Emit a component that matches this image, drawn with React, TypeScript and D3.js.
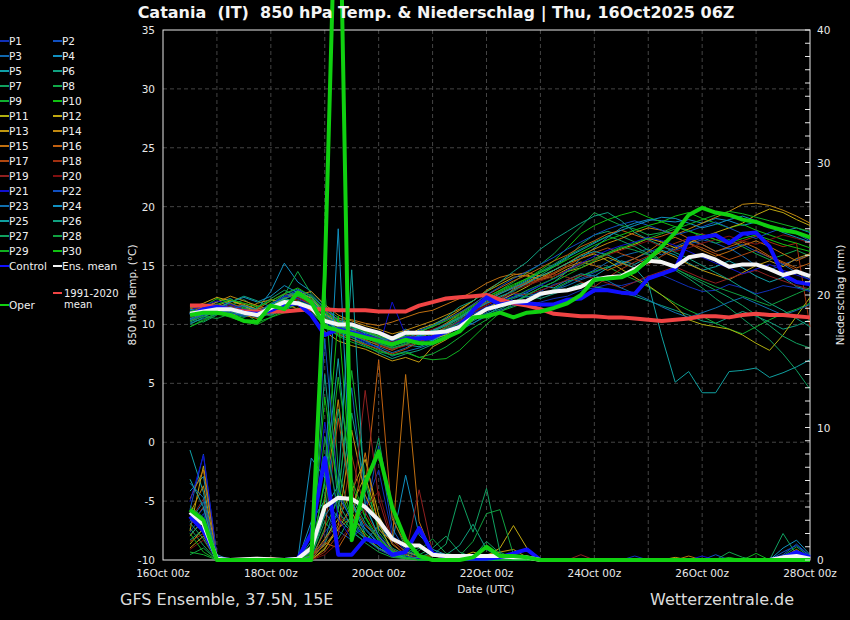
import React from 'react';
import * as d3 from 'd3';

const width = 850;
const height = 620;
const plot = { left: 163, right: 810, top: 30, bottom: 560 };

// lead time in hours after 16Oct2025 00z, every 6 h (16Oct 12z .. 28Oct 00z)
const hours = d3.range(12, 289, 6);

const xTickHours = [0, 48, 96, 144, 192, 240, 288];
const xTickLabels = ['16Oct 00z', '18Oct 00z', '20Oct 00z', '22Oct 00z', '24Oct 00z', '26Oct 00z', '28Oct 00z'];
const tempTicks = [-10, -5, 0, 5, 10, 15, 20, 25, 30, 35];
const precipTicks = [0, 10, 20, 30, 40];

const memberNames = d3.range(1, 31).map(i => `P${i}`);
const memberColors = [
  '#1030b8', '#1050c0', '#1068b0', '#1090c0', '#10a0a8', '#10a080', '#10a060', '#10a848', '#10b030', '#10c010',
  '#b0b010', '#c0a810', '#c09810', '#c08810', '#c07010', '#c06010', '#b04810', '#a03010', '#902020', '#801010',
  '#1010d0', '#1050c0', '#1070b0', '#1090c0', '#10a0a0', '#10a080', '#10a060', '#10a040', '#10b020', '#10c010',
];

// 850 hPa temperature (°C)
const tempMembers: number[][] = [
  [10.9,11.2,11.6,11.3,10.9,10.6,11.0,11.5,12.0,11.6, 10.4,9.8,9.6,9.2,8.8,8.2,8.5,8.7,8.9,9.3,9.9, 10.6,11.2,11.5,11.8,11.6,11.9,12.2,12.4,12.9,13.1,13.4,13.3, 13.6,13.9,14.2,13.7,13.2,12.8,12.9,13.4,13.1,12.6,12.9,13.3,13.1,12.8],
  [10.6,11.0,11.4,11.7,11.2,10.9,11.5,12.3,12.8,12.1, 11.0,10.2,9.9,9.5,9.0,8.6,9.1,9.4,9.2,9.6,10.3, 11.0,11.8,12.1,12.6,12.3,12.8,13.4,13.7,13.9,14.4,14.9,15.2, 15.6,16.1,16.6,16.3,16.8,17.2,16.9,16.4,16.8,16.2,15.7,15.1,15.5,15.9],
  [11.2,11.5,11.3,11.0,10.7,10.8,11.6,12.6,13.0,12.4, 10.6,9.3,8.9,8.4,8.1,7.6,8.0,8.6,8.7,9.1,9.8, 10.4,11.0,11.6,12.2,12.6,12.5,12.9,13.5,14.1,14.6,15.3,15.8, 16.1,16.4,15.9,16.6,17.1,16.8,16.2,16.5,15.8,15.0,14.6,15.1,14.4,13.8],
  [10.4,10.8,11.1,11.5,11.6,11.3,12.8,15.2,13.6,12.8, 11.6,10.3,10.1,9.2,8.5,8.9,9.6,9.0,8.6,9.2,9.9, 10.1,10.8,11.5,11.9,12.5,13.1,13.6,14.5,15.6,16.5,17.4,18.2, 18.6,18.9,18.8,18.7,18.9,18.6,19.0,18.8,18.4,18.7,18.3,17.9,18.2,17.8],
  [11.0,11.3,11.9,12.2,11.5,11.2,11.0,11.8,12.4,12.0, 10.9,10.0,9.4,9.0,8.4,7.9,8.3,8.1,8.6,9.4,10.2, 10.9,11.4,12.0,12.3,12.7,13.3,13.1,13.8,14.3,14.1,14.8,15.4, 15.1,15.7,16.3,15.9,15.2,14.6,14.9,15.4,14.8,14.1,13.6,14.0,13.2,12.9],
  [10.2,10.7,11.0,11.4,11.1,10.6,10.9,11.3,11.9,11.2, 9.8,9.1,8.7,8.2,7.6,7.1,7.5,7.8,8.3,8.8,9.6, 10.3,10.9,11.3,11.9,12.4,12.2,12.6,13.0,13.5,13.2,13.0,12.7, 12.4,12.0,11.6,11.2,10.8,10.3,10.1,10.6,11.1,10.7,10.2,9.6,9.9,10.4],
  [10.5,10.2,10.8,11.6,12.1,11.4,11.2,12.3,12.7,12.0, 10.3,9.5,9.2,8.6,8.3,8.0,8.4,8.9,9.3,9.7,10.4, 11.2,11.9,12.4,12.8,13.5,14.2,14.9,15.6,16.8,17.6,17.9,17.5, 17.0,16.3,15.4,14.6,13.9,13.1,12.2,11.4,10.5,9.6,8.7,7.5,6.1,4.5],
  [11.1,11.4,11.2,10.9,10.6,11.0,11.8,12.5,14.5,12.6, 11.4,10.6,10.0,9.6,9.1,8.8,9.2,9.0,9.5,10.1,10.8, 11.5,12.3,12.9,13.6,14.4,15.1,16.0,17.2,18.3,19.5,18.9,18.4, 18.1,17.6,17.8,18.3,18.0,17.4,16.9,17.2,16.6,16.0,15.5,15.9,16.3,15.8],
  [9.8,10.3,10.9,11.5,11.0,10.2,10.6,11.2,11.7,11.4, 10.1,9.3,8.9,8.3,7.8,7.4,7.7,7.2,7.5,8.1,8.9, 9.7,10.4,11.1,11.5,11.9,12.4,13.0,13.6,14.1,14.5,14.9,14.3, 13.8,13.2,12.5,11.8,11.2,10.7,10.1,9.6,9.2,9.8,10.4,10.9,11.3,11.8],
  [10.7,11.5,12.2,11.8,11.4,11.1,11.6,12.1,11.9,11.5, 10.6,9.7,9.3,8.9,8.5,8.1,8.6,9.1,9.5,10.0,10.7, 11.4,12.1,12.8,13.3,13.9,14.6,15.4,16.5,17.7,18.4,18.9,19.3, 19.6,19.1,18.7,19.2,19.5,19.0,18.6,18.2,18.5,18.0,17.6,17.2,16.9,16.5],
  [10.9,11.2,11.6,12.0,11.7,11.3,11.5,12.2,12.6,12.3, 11.2,10.4,10.0,9.4,9.0,8.4,8.7,9.2,8.8,9.1,9.8, 10.5,11.3,12.0,12.6,13.2,13.9,14.6,15.2,15.6,16.0,15.4,14.7, 14.0,13.3,12.5,11.6,10.4,10.0,9.8,9.6,9.1,8.4,7.8,9.1,10.7,12.3],
  [11.4,11.8,12.3,12.0,11.6,11.0,10.8,11.4,12.9,12.2, 10.9,10.1,9.5,9.7,9.3,8.7,9.0,9.6,10.0,10.5,11.2, 12.0,12.8,13.4,14.0,14.2,13.8,14.1,14.7,15.2,15.5,16.0,16.4, 16.8,17.3,17.0,16.5,16.9,17.4,17.8,18.2,18.6,19.3,19.8,19.5,18.9,18.4],
  [11.6,11.3,11.0,10.7,11.2,11.8,12.1,11.8,11.3,10.9, 9.4,8.6,8.2,7.9,7.4,6.9,7.2,6.8,8.1,8.7,9.5, 10.4,11.2,12.1,13.0,13.6,14.2,13.9,14.5,14.8,15.3,15.7,15.2, 14.8,15.5,16.2,15.7,15.1,14.6,14.2,13.8,14.4,15.0,15.4,14.9,15.6,16.0],
  [11.0,11.5,11.9,12.4,12.0,11.6,11.2,11.7,12.5,12.8, 11.7,10.8,10.3,9.9,9.6,9.2,9.5,9.9,10.3,10.8,11.3, 12.0,12.9,13.6,14.2,14.4,14.1,14.6,15.2,15.9,16.4,16.9,17.3, 17.8,18.2,18.0,17.6,18.1,18.6,19.1,19.6,20.2,20.3,20.1,19.7,19.2,18.6],
  [10.3,10.9,11.4,11.2,10.8,10.5,11.1,11.9,12.2,11.7, 10.8,10.5,10.4,10.1,9.9,10.2,10.6,11.0,11.2,11.7,12.2, 12.8,13.5,14.0,14.3,14.1,13.8,14.3,14.9,15.3,15.0,14.6,15.1, 15.6,16.2,17.0,17.4,16.9,16.3,15.8,16.2,16.7,17.1,16.6,16.0,15.4,15.9],
  [11.3,11.7,11.4,11.1,10.9,11.3,12.0,12.6,12.4,11.8, 10.4,9.6,9.0,8.7,8.2,7.8,8.3,8.8,9.4,10.1,10.9, 11.7,12.5,13.1,13.7,14.2,14.8,15.4,15.9,16.6,17.1,17.7,18.0, 17.6,17.2,17.5,17.9,17.3,16.8,16.2,16.6,17.0,16.5,15.8,15.3,14.8,15.2],
  [10.8,11.1,11.5,11.8,11.3,10.9,11.4,12.0,11.6,11.2, 10.0,9.2,8.7,8.3,7.9,7.5,7.9,8.5,9.1,9.8,10.6, 11.3,11.9,12.6,13.2,13.5,13.9,14.4,15.0,15.6,16.1,16.5,16.0, 15.6,15.1,15.8,16.4,16.9,16.5,16.0,15.5,15.9,16.3,15.7,15.2,14.6,14.1],
  [11.5,11.2,10.9,11.3,11.8,11.5,11.1,11.6,12.1,11.9, 10.7,9.9,9.6,9.1,8.8,8.5,8.9,9.4,9.8,10.4,11.0, 11.6,12.2,12.7,13.1,13.4,13.8,14.3,14.0,13.6,13.2,14.0,14.7, 15.3,15.8,16.4,16.9,17.3,17.7,17.2,16.8,17.1,17.5,17.0,16.6,16.9,9.8],
  [11.0,11.4,11.7,11.4,11.0,10.7,11.2,11.8,12.3,11.8, 10.6,9.9,9.4,8.9,8.3,7.9,8.2,8.5,9.0,9.6,10.3, 11.0,11.6,12.2,12.7,12.5,12.9,13.3,13.8,14.2,13.9,13.5,13.1, 13.6,14.1,14.5,14.9,14.4,13.9,13.5,13.9,14.3,14.6,14.1,13.7,13.3,13.0],
  [10.6,10.9,11.3,11.6,11.2,10.8,11.0,11.5,11.9,11.5, 10.5,9.7,9.2,8.8,8.6,8.3,8.7,9.2,9.6,10.0,10.5, 11.1,11.7,12.3,12.9,13.3,13.7,14.1,14.6,15.1,15.5,15.9,16.3, 16.7,17.1,16.6,16.2,16.5,16.9,17.2,17.5,17.1,16.8,17.2,17.6,17.3,16.9],
  [11.2,11.6,12.0,11.7,11.3,11.1,11.7,12.4,12.2,11.6, 10.2,9.4,9.0,8.5,8.0,11.9,9.1,8.4,8.9,9.5,10.2, 10.9,11.5,12.0,12.4,12.8,13.3,13.9,14.6,15.2,15.8,16.3,16.7, 17.0,17.4,17.1,16.7,16.2,15.7,15.2,14.8,14.3,14.7,15.1,14.6,14.2,13.8],
  [10.4,10.8,11.2,11.0,10.7,10.9,11.6,12.4,12.9,12.5, 11.3,10.4,9.8,9.3,8.9,8.6,9.0,9.5,9.9,10.4,11.0, 11.7,12.5,13.2,13.9,14.5,15.1,15.7,16.4,17.0,17.6,18.1,18.5, 18.8,18.4,18.0,17.6,17.9,18.3,18.7,18.2,17.7,17.3,17.8,18.2,17.7,17.1],
  [10.1,10.5,10.9,11.3,11.6,11.2,10.8,11.3,11.8,11.4, 10.3,9.6,9.1,8.6,8.0,7.3,7.7,8.0,8.4,8.9,9.5, 10.1,10.7,11.2,11.6,12.0,12.4,12.9,13.3,13.8,14.2,13.7,13.1, 12.6,12.1,11.5,11.0,10.6,11.0,11.4,11.9,12.3,11.8,11.3,10.8,11.2,11.7],
  [11.3,11.0,11.4,11.9,12.3,11.9,12.4,13.3,12.7,12.0, 10.8,10.0,9.5,9.1,8.7,8.3,8.6,9.0,9.5,10.0,10.6, 11.3,12.0,12.6,13.1,13.7,14.4,15.0,15.7,16.3,16.9,17.5,18.0, 18.4,18.8,19.1,19.0,18.6,18.2,18.5,18.9,19.2,18.8,18.3,17.8,17.4,17.0],
  [10.5,10.9,11.3,11.1,10.8,11.0,11.7,12.2,11.9,11.4, 10.4,9.6,9.2,8.8,8.5,8.2,8.6,9.1,9.4,9.9,10.5, 11.2,11.8,12.3,12.9,13.5,14.1,14.6,15.2,15.8,16.2,15.9,15.3, 14.8,13.5,9.0,5.1,6.0,4.2,4.2,6.0,6.1,6.3,5.5,5.9,6.4,7.0],
  [10.0,10.6,11.3,11.9,12.4,12.0,11.5,12.1,12.8,12.3, 11.0,10.2,9.7,9.3,8.9,8.4,8.8,9.3,9.9,10.6,11.5, 12.0,12.8,13.6,14.5,15.3,16.4,17.2,17.9,18.6,19.2,19.5,18.8, 17.8,17.2,16.7,16.1,15.6,15.0,14.4,13.8,13.1,12.5,11.8,11.2,10.5,9.8],
  [11.4,11.7,11.5,11.2,10.9,11.4,12.2,12.9,12.4,11.9, 10.7,9.9,9.4,9.0,8.6,8.2,8.5,8.9,9.4,9.9,10.6, 11.4,12.1,12.7,13.2,13.8,14.5,15.1,15.8,16.4,17.0,17.5,17.1, 16.6,16.0,15.4,14.8,14.1,13.5,12.9,12.3,11.6,10.8,9.9,9.0,8.4,8.0],
  [10.3,10.7,10.5,10.9,11.4,11.1,10.7,11.4,12.0,11.6, 10.5,9.8,9.3,8.9,8.4,8.0,8.3,8.7,9.2,9.6,10.1, 10.7,11.3,11.8,12.3,12.9,13.4,13.9,14.5,15.0,15.6,16.1,16.6, 16.3,15.9,15.3,14.7,14.2,13.7,13.2,12.8,12.4,12.0,11.6,12.1,12.6,13.1],
  [9.8,10.4,11.0,10.6,10.2,10.0,10.6,11.0,11.4,11.0, 9.9,9.0,8.5,8.1,7.7,7.4,7.6,7.2,7.0,7.1,7.8, 8.9,10.0,11.0,11.8,12.5,13.1,13.6,14.2,14.8,15.4,16.0,16.5, 16.9,17.3,17.7,18.1,18.5,18.9,19.3,19.6,19.4,19.1,18.8,18.5,18.2,17.9],
  [11.1,11.3,11.7,12.1,11.8,11.5,12.0,12.6,13.1,12.4, 11.1,10.3,9.8,9.4,9.0,8.7,9.0,9.4,9.8,10.3,10.9, 11.6,12.3,12.9,13.4,13.9,14.4,14.9,15.5,16.1,16.7,17.2,17.6, 18.0,18.4,18.7,18.3,17.9,17.6,17.2,16.9,17.3,17.6,17.2,16.8,16.5,16.2],
];
const tempControl = [10.8,11.3,11.5,11.3,11.0,10.9,11.2,11.7,11.8,10.8, 9.1,9.6,9.3,9.0,8.6,8.3,8.8,8.8,8.9,9.4, 9.8,11.2,12.3,11.7,11.9,11.8,11.7,11.7,12.1,12.2, 12.9,12.9,12.7,12.6,13.9,14.3,14.7,17.3,17.4,17.6, 16.9,17.7,17.8,16.6,14.2,13.6,13.4];
const tempEnsMean = [10.9,11.1,11.3,11.3,11.0,10.8,11.4,11.9,11.8,11.4, 10.3,10.0,10.0,9.6,9.3,8.8,9.3,9.3,9.3,9.4, 9.8,10.6,11.3,11.6,11.9,12.0,12.6,12.8,12.9,13.2, 13.8,14.0,14.1,14.7,15.4,15.3,14.9,15.7,15.9,15.5, 14.9,15.1,15.1,14.7,14.2,14.5,14.1];
const tempOper = [10.8,11.0,11.0,10.8,10.3,10.2,11.6,11.3,12.7,11.9, 9.8,9.5,9.2,8.9,8.6,8.3,8.7,8.4,8.4,8.9, 9.4,10.6,10.7,11.0,10.6,11.0,11.1,11.4,11.8,12.5, 13.8,13.9,14.0,14.5,15.5,16.6,17.8,19.3,19.9,19.5, 19.3,18.9,18.7,18.3,18.0,17.8,17.4];
const tempClimate = [11.6,11.6,11.5,11.3,11.1,11.1,11.1,11.1,11.2,11.3, 11.3,11.2,11.2,11.2,11.1,11.1,11.1,11.6,11.9,12.2, 12.3,12.4,12.5,12.1,11.8,11.6,11.3,10.9,10.8,10.7, 10.7,10.6,10.6,10.5,10.4,10.3,10.4,10.5,10.7,10.7, 10.6,10.8,10.9,10.8,10.8,10.7,10.6];

// 6-hourly precipitation (mm)
const precipMembers: number[][] = [
  [2.1,3.5,0.2, 0,0,0,0,0,0, 0.3,2.1,3.4,2.8,4.1,6.8,1.9,0.6,0.2, 0,0,0,0,0,0,0,0, 0,0,0,0,0,0,0,0.3,0,0,0,0,0,0,0,0,0, 0,0,0,0],
  [3.8,8.0,0.3, 0,0,0,0.1,0,0, 1.0,3.6,2.2,1.5,3.3,8.6,2.4,0.7,0.3, 0,0,0,0,0,0,0,0, 0,0,0,0,0,0,0,0,0,0,0,0,0,0.4,0,0,0, 0,0.6,1.1,0.3],
  [2.9,4.4,0.1, 0,0,0,0,0,0, 0.2,1.4,5.1,13.0,4.2,1.8,0.6,0.2,0.1, 0,0,0,0,0,0,0,0, 0,0,0,0,0,0,0,0,0,0,0,0,0,0,0,0,0, 0,0.2,0.5,0],
  [5.2,6.3,0.4, 0,0,0,0,0,0, 2.9,4.5,3.2,2.1,1.4,2.6,1.3,6.4,1.9, 0.8,0.4,0.2,0,0,0,0,0, 0,0,0,0,0,0,0,0,0,0,0,0,0,0,0,0,0, 0,0.9,1.5,0.4],
  [8.3,5.1,0.2, 0,0,0,0,0,0, 0.6,5.8,15.2,4.3,2.0,1.1,0.4,0.2,0, 0,0,0,0,0,0,0,0, 0,0,0,0,0,0,0,0,0,0,0,0,0,0,0,0,0, 0,0,0.3,0],
  [1.5,2.3,0, 0,0,0,0,0,0, 0.1,1.2,3.8,11.1,5.7,2.4,0.9,0.4,1.2, 0.5,0.2,0,0,0,0,0,0, 0,0,0,0,0,0,0,0,0,0,0,0,0,0,0,0,0, 0,0.3,0.5,0.1],
  [2.4,1.1,0, 0,0,0,0,0,0, 0.3,2.9,1.6,3.4,5.1,9.2,3.3,0.9,0.4, 0.9,1.8,0.6,0.2,1.4,0.5,0,0, 0,0,0,0,0,0,0,0,0,0,0,0,0,0,0,0,0, 0,2.0,0.4,0.2],
  [4.1,3.2,0.1, 0,0,0,0,0,0, 1.0,20.6,6.8,3.1,1.7,0.9,0.4,0.1,0, 0,0,0,0,0,0,0,0, 0,0,0,0,0,0,0,0,0,0,0,0,0,0,0.6,0.2,0, 0,0,0,0],
  [0.6,0.4,0, 0,0,0,0,0,0, 0,2.4,4.6,14.3,6.2,2.1,0.8,0.3,0.1, 0,0,0,0,0,0,0,0, 0,0,0,0,0,0,0,0,0,0,0,0,0,0,0,0,0, 0,0,0.2,0],
  [3.2,2.6,0, 0,0,0,0,0,0, 0.4,6.1,18.4,5.6,3.2,1.4,0.5,0.2,0, 0,0,0,0,0,0,0,0, 0,0,0,0,0,0,0,0,0,0,0,0,0,0,0,0,0, 0,0,0.4,0.1],
  [1.2,2.4,0.2, 0,0,0,0,0,0, 0,0.9,2.3,4.1,6.4,2.8,0.6,0.1,0, 0,0,0,0,0,0,0,0, 0,0,0,0,0,0,0,0,0,0,0,0,0,0,0,0,0, 0,0,0,0],
  [2.2,7.1,0.3, 0,0,0,0,0,0, 0.2,1.6,3.1,5.2,7.6,3.4,1.2,0.4,0.1, 0,0,0.2,0.6,0.3,0.9,2.6,0.9, 0,0,0,0,0,0,0,0,0,0,0,0,0,0,0,0,0, 0,0,0,0],
  [0.9,1.8,0.1, 0,0,0,0,0,0, 0,0.8,2.6,9.8,4.9,2.7,1.5,0.6,0.3, 0.3,0.2,0,0,0.4,0.6,0.8,0.2, 0,0,0,0,0,0,0,0,0,0,0.2,0,0,0,0,0,0, 0,0.3,0.6,0.2],
  [3.5,5.6,0.2, 0,0,0,0,0,0, 0.6,4.4,12.1,3.6,1.8,0.9,0.3,0.1,0, 0,0,0,0,0,0,0,0, 0,0,0,0,0,0,0,0,0,0,0,0,0,0,0,0,0, 0,0.2,0.8,0.1],
  [4.6,6.8,0.3, 0,0.1,0.2,0,0,0, 0.3,1.1,2.4,3.2,8.1,2.3,1.4,14.0,2.9, 0.4,0,0,0,0,0,0,0, 0,0,0,0,0,0,0,0,0,0,0,0.3,0,0,0,0,0, 0,0,0,0],
  [1.8,3.1,0.1, 0,0,0,0,0,0, 0,1.3,0.9,2.6,5.4,15.1,3.1,1.2,0.3, 0,0,0,0,0,0,0,0, 0,0,0,0,0,0,0,0,0,0,0,0,0,0,0,0,0, 0,0,0.5,0.2],
  [2.6,4.0,0.2, 0,0,0.1,0.2,0,0, 0.1,2.2,10.7,4.4,2.6,1.7,0.8,0.2,0, 0,0,0,0,0,0,0,0, 0,0,0,0,0,0,0,0,0,0,0,0,0,0,0,0,0, 0,0,0,0],
  [1.4,2.0,0, 0,0,0,0,0,0, 0,0.6,1.9,7.9,3.6,1.8,0.7,0.2,0, 0,0,0,0,0,0,0,0, 0,0,0,0,0,0,0,0,0,0,0,0,0,0,0,0,0, 0,0,0,0],
  [3.0,4.6,0.2, 0,0,0,0,0,0, 0.2,1.5,2.8,3.6,12.8,4.6,1.3,0.4,5.3, 0.6,0.2,0,0,0,0,0,0, 0,0,0,0.4,0,0,0,0,0,0,0,0,0,0,0,0,0, 0,0,0,0],
  [0.8,1.5,0, 0,0,0,0,0,0, 0,0.4,1.3,2.7,3.9,5.2,1.6,0.5,0.1, 0,0,0,0,0,0,0,0, 0,0,0,0,0,0,0,0,0,0,0,0,0,0,0,0,0, 0,0,0,0],
  [4.4,7.9,0.3, 0,0,0,0,0,0, 1.8,10.4,3.1,1.6,2.7,1.9,0.7,0.3,0.1, 0,0,0,0,0,0,0,0, 0,0,0,0,0,0,0,0,0,0,0,0,0.3,0,0,0,0, 0,0,0.7,0.2],
  [2.7,3.9,0.1, 0,0,0,0,0,0, 0.9,16.7,5.2,2.9,1.6,0.8,0.3,0.1,0, 0,0,0,0,0,0,0,0, 0,0,0,0,0,0,0,0,0,0,0,0,0,0,0,0,0, 0,0.4,1.2,0.3],
  [5.8,4.7,0.2, 0,0,0,0,0,0, 0.6,3.3,4.8,3.1,2.4,1.3,0.5,0.2,0, 0,0,0,0,0,0,0,0, 0,0,0,0,0,0,0,0,0,0,0,0,0,0,0,0,0, 0,0,0,0],
  [3.3,2.8,0, 0,0,0,0,0,0, 7.7,6.2,25.0,4.4,2.3,1.2,0.5,0.2,0, 0,0,0,0,0,0,0,0, 0,0,0,0,0,0,0,0,0,0,0,0,0,0,0,0,0, 0,0,0.6,0.1],
  [6.1,4.0,0.1, 0,0,0,0,0,0, 1.4,3.9,5.6,21.9,4.1,1.8,0.6,0.2,0, 0,0,0,0,0,0,0,0, 0,0,0,0,0,0,0,0,0,0,0,0,0,0,0,0,0, 0,0,0,0],
  [1.9,2.9,0, 0,0,0,0,0,0, 0.3,14.0,4.3,2.5,1.6,0.9,0.4,0.1,0.2, 0.6,0.4,1.1,2.7,0.8,0.2,0,0, 0,0,0,0,0,0,0,0,0,0,0,0,0,0,0,0,0, 0,0,0,0],
  [2.8,1.6,0, 0,0,0,0,0,0, 0.2,3.4,11.4,4.7,2.8,1.5,0.7,0.3,0.9, 0.4,1.2,4.9,2.1,5.4,0.6,0.1,0, 0,0,0,0,0,0,0,0,0,0,0,0,0,0,0,0,0, 0,0,0,0],
  [0.4,0.9,0, 0,0,0,0,0,0, 0.1,9.3,3.7,2.2,1.3,0.6,0.2,0.1,0.7, 1.6,0.5,0.3,1.4,3.5,3.8,0.4,0, 0,0,0,0,0,0,0,0,0,0,0,0,0,0,0,0,0, 0,0.3,1.0,0.2],
  [2.0,0.6,0, 0,0,0,0,0,0, 0,4.8,13.8,6.1,3.3,1.6,0.7,0.2,0, 0,0,0,0,0,0,0,0, 0,0,0,0,0,0,0,0,0,0,0,0,0,0,0.2,0,0.5, 0,0,0,0],
  [3.7,3.0,0, 0,0,0,0,0,0, 0.5,12.3,5.4,3.2,2.0,1.1,0.4,0.1,0, 0,0,0,0,0,0,0,0, 0,0,0,0,0,0,0,0,0,0,0,0,0,0,0,0,0, 0,0,0.3,0],
];
const precipControl = [3.3,2.2,0.1,0,0,0.05,0,0,0.1,2.0, 7.7,0.4,0.4,1.6,1.3,0.4,0.6,2.4,0.5,0.2, 0.1,0.1,0.1,0.2,0.5,0.8,0,0,0,0, 0,0,0,0,0,0,0,0,0,0, 0,0,0,0,0.2,0.6,0.2];
const precipEnsMean = [3.6,2.7,0.1,0,0.05,0.1,0.05,0,0.1,0.9, 4.0,4.7,4.6,4.0,3.0,1.6,1.1,1.1,0.4,0.3, 0.3,0.3,0.3,0.3,0.2,0.2,0,0,0,0, 0,0,0,0,0,0,0,0,0,0, 0,0,0,0,0.2,0.3,0.1];
const precipOper = [3.8,3.0,0,0,0,0,0,0,0,0, 21.5,57.8,1.5,5.8,8.2,4.0,1.5,0.3,0,0, 0,0.2,1.0,0.3,0.3,0.2,0,0,0,0, 0,0,0,0,0,0,0,0,0,0, 0,0,0,0,0,0,0];

const font = 'DejaVu Sans, Verdana, sans-serif';

const App = () => {
  const x = d3.scaleLinear().domain([0, 288]).range([plot.left, plot.right]);
  const yT = d3.scaleLinear().domain([-10, 35]).range([plot.bottom, plot.top]);
  const yP = d3.scaleLinear().domain([0, 40]).range([plot.bottom, plot.top]);

  const lineT = d3.line<number>().x((_, i) => x(hours[i])).y(d => yT(d));
  const lineP = d3.line<number>().x((_, i) => x(hours[i])).y(d => yP(d));

  const gridDays = d3.range(24, 288, 24);
  const minorP = d3.range(0, 41, 1);

  const legendRow = (k: number) => 41 + 15 * k;

  return (
    <div style={{ position: 'absolute', left: 0, top: 0 }}>
      <svg width={width} height={height} style={{ display: 'block', background: '#000' }}>
        <rect x={0} y={0} width={width} height={height} fill="#000" />

        {/* grid */}
        {gridDays.map(h => (
          <line key={`gx${h}`} x1={x(h)} x2={x(h)} y1={plot.top} y2={plot.bottom}
            stroke="#444" strokeDasharray="4,3" strokeWidth={1} />
        ))}
        {tempTicks.filter(t => t > -10 && t < 35).map(t => (
          <line key={`gy${t}`} x1={plot.left} x2={plot.right} y1={yT(t)} y2={yT(t)}
            stroke="#444" strokeDasharray="4,3" strokeWidth={1} />
        ))}

        {/* frame */}
        <rect x={plot.left} y={plot.top} width={plot.right - plot.left} height={plot.bottom - plot.top}
          fill="none" stroke="#e8e8e8" strokeWidth={1} />

        {/* ensemble members */}
        {tempMembers.map((d, k) => (
          <path key={`t${k}`} d={lineT(d) ?? ''} fill="none" stroke={memberColors[k]} strokeWidth={1} />
        ))}
        {precipMembers.map((d, k) => (
          <path key={`p${k}`} d={lineP(d) ?? ''} fill="none" stroke={memberColors[k]} strokeWidth={1} />
        ))}

        {/* climate, control, mean, oper */}
        <path d={lineT(tempClimate) ?? ''} fill="none" stroke="#f04444" strokeWidth={4} strokeLinejoin="round" />
        <path d={lineP(precipControl) ?? ''} fill="none" stroke="#1010ff" strokeWidth={4} strokeLinejoin="round" />
        <path d={lineT(tempControl) ?? ''} fill="none" stroke="#1010ff" strokeWidth={4} strokeLinejoin="round" />
        <path d={lineP(precipEnsMean) ?? ''} fill="none" stroke="#f4f4f4" strokeWidth={4} strokeLinejoin="round" />
        <path d={lineT(tempEnsMean) ?? ''} fill="none" stroke="#f4f4f4" strokeWidth={4} strokeLinejoin="round" />
        <path d={lineP(precipOper) ?? ''} fill="none" stroke="#10d010" strokeWidth={4} strokeLinejoin="round" />
        <path d={lineT(tempOper) ?? ''} fill="none" stroke="#10d010" strokeWidth={4} strokeLinejoin="round" />

        {/* left axis labels */}
        {tempTicks.map(t => (
          <text key={`lt${t}`} x={155} y={yT(t) + 4} textAnchor="end" fill="#e8e8e8"
            fontFamily={font} fontSize={10.5}>{t}</text>
        ))}
        <text transform={`translate(136,${(plot.top + plot.bottom) / 2}) rotate(-90)`} textAnchor="middle"
          fill="#e8e8e8" fontFamily={font} fontSize={10.5}>850 hPa Temp. (°C)</text>

        {/* right axis */}
        {minorP.map(p => (
          <line key={`rt${p}`} x1={plot.right - 5} x2={plot.right} y1={yP(p)} y2={yP(p)} stroke="#e8e8e8" strokeWidth={1} />
        ))}
        {precipTicks.map(p => (
          <text key={`rl${p}`} x={817} y={yP(p) + 4} fill="#e8e8e8" fontFamily={font} fontSize={10.5}>{p}</text>
        ))}
        <text transform={`translate(844,${(plot.top + plot.bottom) / 2}) rotate(-90)`} textAnchor="middle"
          fill="#e8e8e8" fontFamily={font} fontSize={10.5}>Niederschlag (mm)</text>

        {/* x axis labels */}
        {xTickHours.map((h, i) => (
          <text key={`xl${h}`} x={x(h)} y={577} textAnchor="middle" fill="#e8e8e8"
            fontFamily={font} fontSize={10.5}>{xTickLabels[i]}</text>
        ))}
        <text x={486} y={593} textAnchor="middle" fill="#e8e8e8" fontFamily={font} fontSize={10.5}>Date (UTC)</text>

        {/* title and footer */}
        <text x={436} y={18} textAnchor="middle" fill="#f4f4f4" fontFamily={font} fontWeight="bold"
          fontSize={16} style={{ whiteSpace: 'pre' }}>{'Catania  (IT)  850 hPa Temp. & Niederschlag | Thu, 16Oct2025 06Z'}</text>
        <text x={120} y={605} fill="#dcdcdc" fontFamily={font} fontSize={16}>GFS Ensemble, 37.5N, 15E</text>
        <text x={650} y={605} fill="#dcdcdc" fontFamily={font} fontSize={16}>Wetterzentrale.de</text>

        {/* legend */}
        {memberNames.map((name, k) => {
          const col = k % 2;
          const y = legendRow(Math.floor(k / 2));
          const x0 = col === 0 ? 0 : 53;
          return (
            <g key={name}>
              <line x1={x0} x2={x0 + 9} y1={y} y2={y} stroke={memberColors[k]} strokeWidth={2} />
              <text x={x0 + 9} y={y + 4} fill="#f0f0f0" fontFamily={font} fontSize={10.5}>{name}</text>
            </g>
          );
        })}
        <line x1={0} x2={9} y1={legendRow(15)} y2={legendRow(15)} stroke="#1010ff" strokeWidth={2} />
        <text x={9} y={legendRow(15) + 4} fill="#f0f0f0" fontFamily={font} fontSize={10.5}>Control</text>
        <line x1={53} x2={62} y1={legendRow(15)} y2={legendRow(15)} stroke="#f4f4f4" strokeWidth={2} />
        <text x={62} y={legendRow(15) + 4} fill="#f0f0f0" fontFamily={font} fontSize={10.5}>Ens. mean</text>
        <line x1={53} x2={62} y1={293} y2={293} stroke="#f04444" strokeWidth={2} />
        <text x={64} y={296.5} fill="#f0f0f0" fontFamily={font} fontSize={10}>1991-2020</text>
        <text x={64} y={308} fill="#f0f0f0" fontFamily={font} fontSize={10}>mean</text>
        <line x1={0} x2={9} y1={305} y2={305} stroke="#10d010" strokeWidth={2} />
        <text x={9} y={309} fill="#f0f0f0" fontFamily={font} fontSize={10.5}>Oper</text>
      </svg>
    </div>
  );
};

export default App;
